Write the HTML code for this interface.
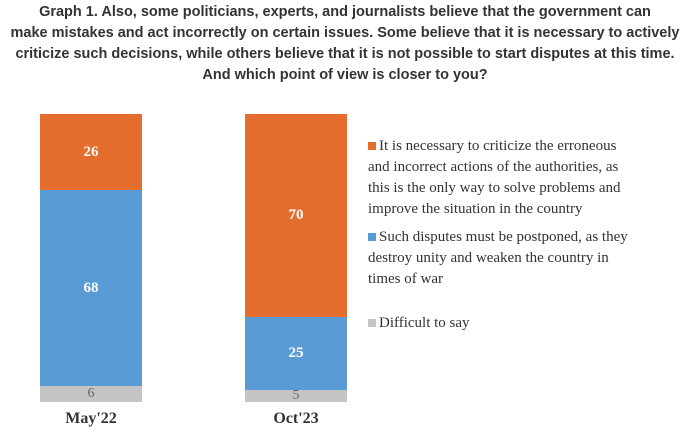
<!DOCTYPE html>
<html><head><style>
body{margin:0;width:690px;height:444px;background:#fff;position:relative;overflow:hidden;font-family:"Liberation Serif",serif}
.t{position:absolute;left:0;top:2px;width:690px;text-align:center;font-family:"Liberation Sans",sans-serif;font-weight:bold;font-size:14.5px;line-height:21px;color:#333}
.s{position:absolute;display:flex;align-items:center;justify-content:center;font-weight:bold;font-size:15px;color:#fff}
.g{color:#666;font-weight:normal;font-size:14px}
.o{background:#e46c2c}.b{background:#5b9bd5}.gr{background:#c4c4c4}
.x{position:absolute;top:410px;width:102px;text-align:center;font-weight:bold;font-size:16px;color:#333}
.l{position:absolute;left:368px;font-size:15px;line-height:21px;color:#333;width:320px}
.l i{display:inline-block;width:8px;height:8px;margin-right:3px}
</style></head><body>
<div class="t">Graph 1. Also, some politicians, experts, and journalists believe that the government can<br>make mistakes and act incorrectly on certain issues. Some believe that it is necessary to actively<br>criticize such decisions, while others believe that it is not possible to start disputes at this time.<br>And which point of view is closer to you?</div>
<div class="s o" style="left:40px;top:114px;width:102px;height:76px">26</div>
<div class="s b" style="left:40px;top:190px;width:102px;height:196px">68</div>
<div class="s gr g" style="left:40px;top:386px;width:102px;height:16px">6</div>
<div class="s o" style="left:245px;top:114px;width:102px;height:203px">70</div>
<div class="s b" style="left:245px;top:317px;width:102px;height:73px">25</div>
<div class="s gr g" style="left:245px;top:390px;width:102px;height:12px">5</div>
<div class="x" style="left:40px">May'22</div>
<div class="x" style="left:245px">Oct'23</div>
<div class="l" style="top:136px"><i class="o"></i>It is necessary to criticize the erroneous<br>and incorrect actions of the authorities, as<br>this is the only way to solve problems and<br>improve the situation in the country</div>
<div class="l" style="top:227px"><i class="b"></i>Such disputes must be postponed, as they<br>destroy unity and weaken the country in<br>times of war</div>
<div class="l" style="top:313px"><i class="gr"></i>Difficult to say</div>
</body></html>
